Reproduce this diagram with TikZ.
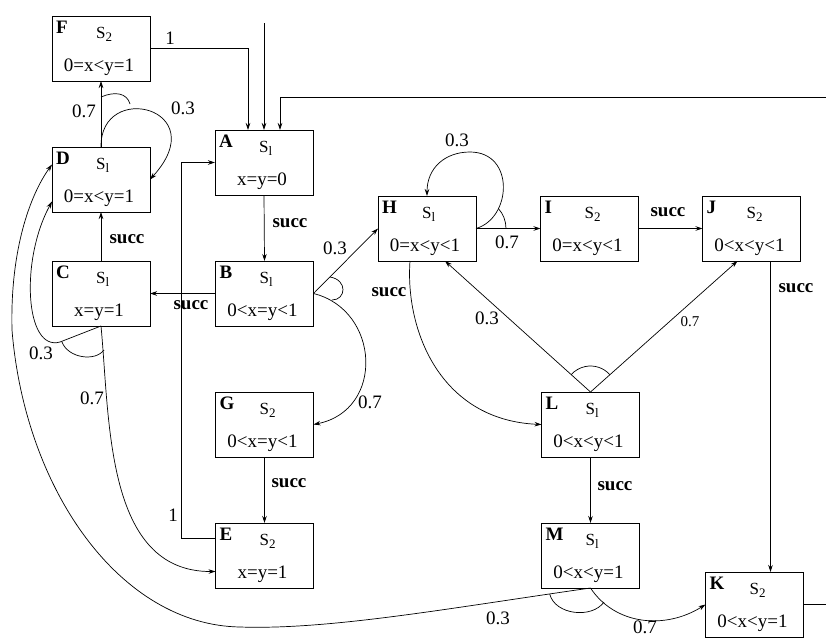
\documentclass[tikz,border=0pt]{standalone}
\usepackage{fontspec}
\setmainfont{Liberation Serif}
\usetikzlibrary{calc,arrows.meta}
\tikzset{
  stbox/.style={draw, line width=0.8pt, minimum width=98pt, minimum height=65pt, inner sep=0pt, outer sep=0pt},
  stletter/.style={font=\fontsize{19}{19}\selectfont\bfseries, inner sep=0pt},
  stname/.style={font=\fontsize{17}{17}\selectfont, inner sep=0pt},
  stcons/.style={font=\fontsize{19}{19}\selectfont, inner sep=0pt},
  edge/.style={line width=0.7pt, -{Stealth[length=7pt,width=4.5pt]}},
  plain/.style={line width=0.7pt},
  prob/.style={font=\fontsize{19}{19}\selectfont, inner sep=0pt},
  probsmall/.style={font=\fontsize{15}{15}\selectfont, inner sep=0pt},
  act/.style={font=\fontsize{19}{19}\selectfont\bfseries, inner sep=0pt}
}
\newcommand\mkstate[6]{%
  \node[stbox] (#1) at (#2,#3) {};
  \node[stletter, anchor=base west] (#1-n) at ($(#1.north west)+(4,17)$) {#4};
  \node[stname, anchor=base west] (#1-s) at ($(#1.north west)+(44,22)$) {S\raisebox{-3pt}{\fontsize{13}{13}\selectfont #5}};
  \node[stcons, anchor=base] (#1-c) at ($(#1.north west)+(47,55)$) {#6};
}
\begin{document}
\begin{tikzpicture}[x=1pt,y=-1pt]
\useasboundingbox (0,0) rectangle (826,637);
% states
\mkstate{F}{101}{48.5}{F}{2}{0=x<y=1}
\mkstate{D}{101}{179.5}{D}{l}{0=x<y=1}
\mkstate{A}{264}{162.5}{A}{l}{x=y=0}
\mkstate{C}{101}{293.5}{C}{l}{x=y=1}
\mkstate{B}{264.5}{293.5}{B}{l}{0<x=y<1}
\mkstate{G}{264.5}{424.5}{G}{2}{0<x=y<1}
\mkstate{E}{264.5}{555.5}{E}{2}{x=y=1}
\mkstate{H}{427}{228.5}{H}{l}{0=x<y<1}
\mkstate{I}{589.5}{228.5}{I}{2}{0=x<y<1}
\mkstate{J}{751.5}{228.5}{J}{2}{0<x<y<1}
\mkstate{L}{590.5}{424.5}{L}{l}{0<x<y<1}
\mkstate{M}{590.5}{555.5}{M}{l}{0<x<y=1}
\mkstate{K}{754.5}{604.5}{K}{2}{0<x<y=1}
% free ends
\coordinate (topin) at (264,23);
\coordinate (rin) at (826,97);
\coordinate (kout) at (826,604.5);
% into A
\draw[edge] (F.east) -| ($(A.north)+(-16,0)$);
\draw[edge] (topin) -- (A.north);
\draw[edge] (rin) -| ($(A.north)+(16,0)$);
\draw[edge] ($(E.west)+(0,-17)$) -- ++(-34,0) |- (A.west);
% left column
\draw[edge] (A.south) -- (B.north);
\draw[edge] (B.west) -- (C.east);
\draw[edge] (C.north) -- (D.south);
\draw[edge] (D.north) -- (F.south);
\draw[edge] (D.north) .. controls (100,80) and (215,108) .. (D.east);
\draw[plain] (101,97) .. controls (115,91) and (127,93) .. (130,104);
% B branches
\draw[edge] (B.east) -- (H.west);
\draw[edge] (B.east) .. controls (380,310) and (385,410) .. (G.east);
\draw[plain] (330,277) .. controls (348,280) and (346,300) .. (332,300);
\draw[edge] (G.south) -- (E.north);
% C branches
\draw[edge] (C.south) -- (60,342) .. controls (25,352) and (20,260) .. ($(D.west)+(0,22)$);
\draw[edge] (C.south) .. controls (110,420) and (105,572) .. ($(E.west)+(0,16)$);
\draw[plain] (62,342) .. controls (68,358) and (95,362) .. (104,350);
% M branches
\draw[edge] (M.south) .. controls (450,608) and (330,630) .. (240,627) .. controls (120,625) and (25,490) .. (12,330) .. controls (10,250) and (30,195) .. ($(D.west)+(0,-15)$);
\draw[edge] (M.south) .. controls (615,625) and (665,630) .. (K.west);
\draw[plain] (549.7,594) .. controls (555,615) and (592,619) .. (604,602);
\draw[plain] (K.east) -- (kout);
% H
\draw[edge] (H.east) .. controls (512,218) and (515,152) .. (470,152) .. controls (445,152) and (427,168) .. (H.north);
\draw[plain] ($(H.east)+(30,0)$) arc[start angle=0,end angle=42,radius=30pt];
\draw[edge] (H.east) -- (I.west);
\draw[edge] (I.east) -- (J.west);
\draw[edge] ($(J.south)+(19,0)$) coordinate (jk) -- (jk |- K.north);
\draw[edge] ($(H.south)+(-17,0)$) .. controls (405,330) and (440,420) .. (L.west);
% L
\draw[edge] (L.north) -- ($(H.south)+(18,0)$);
\draw[edge] (L.north) -- ($(J.south)+(-14,0)$);
\draw[plain] ($(L.north)+({26*cos(42)},{-26*sin(42)})$) arc[start angle=42,end angle=138,radius=26pt];
\draw[edge] (L.south) -- (M.north);
% labels
\node[prob] (p1) at (170,38) {1};
\node[prob] (p2) at (84,111) {0.7};
\node[prob] (p3) at (183,108) {0.3};
\node[act] (p4) at (127,239) {succ};
\node[act] (p5) at (290,223) {succ};
\node[act] (p6) at (191,305) {succ};
\node[prob] (p7) at (335,248) {0.3};
\node[prob] (p8) at (370,402) {0.7};
\node[prob] (p9) at (41,353) {0.3};
\node[prob] (p10) at (92,398) {0.7};
\node[prob] (p11) at (173,515) {1};
\node[act] (p12) at (289,483) {succ};
\node[prob] (p13) at (457,140) {0.3};
\node[prob] (p14) at (507,242) {0.7};
\node[act] (p15) at (668,212) {succ};
\node[act] (p16) at (389,292) {succ};
\node[prob] (p17) at (487,318) {0.3};
\node[probsmall] (p18) at (690,322) {0.7};
\node[act] (p19) at (796,288) {succ};
\node[act] (p20) at (615,486) {succ};
\node[prob] (p21) at (498,618) {0.3};
\node[prob] (p22) at (645,627) {0.7};
\end{tikzpicture}
\end{document}
